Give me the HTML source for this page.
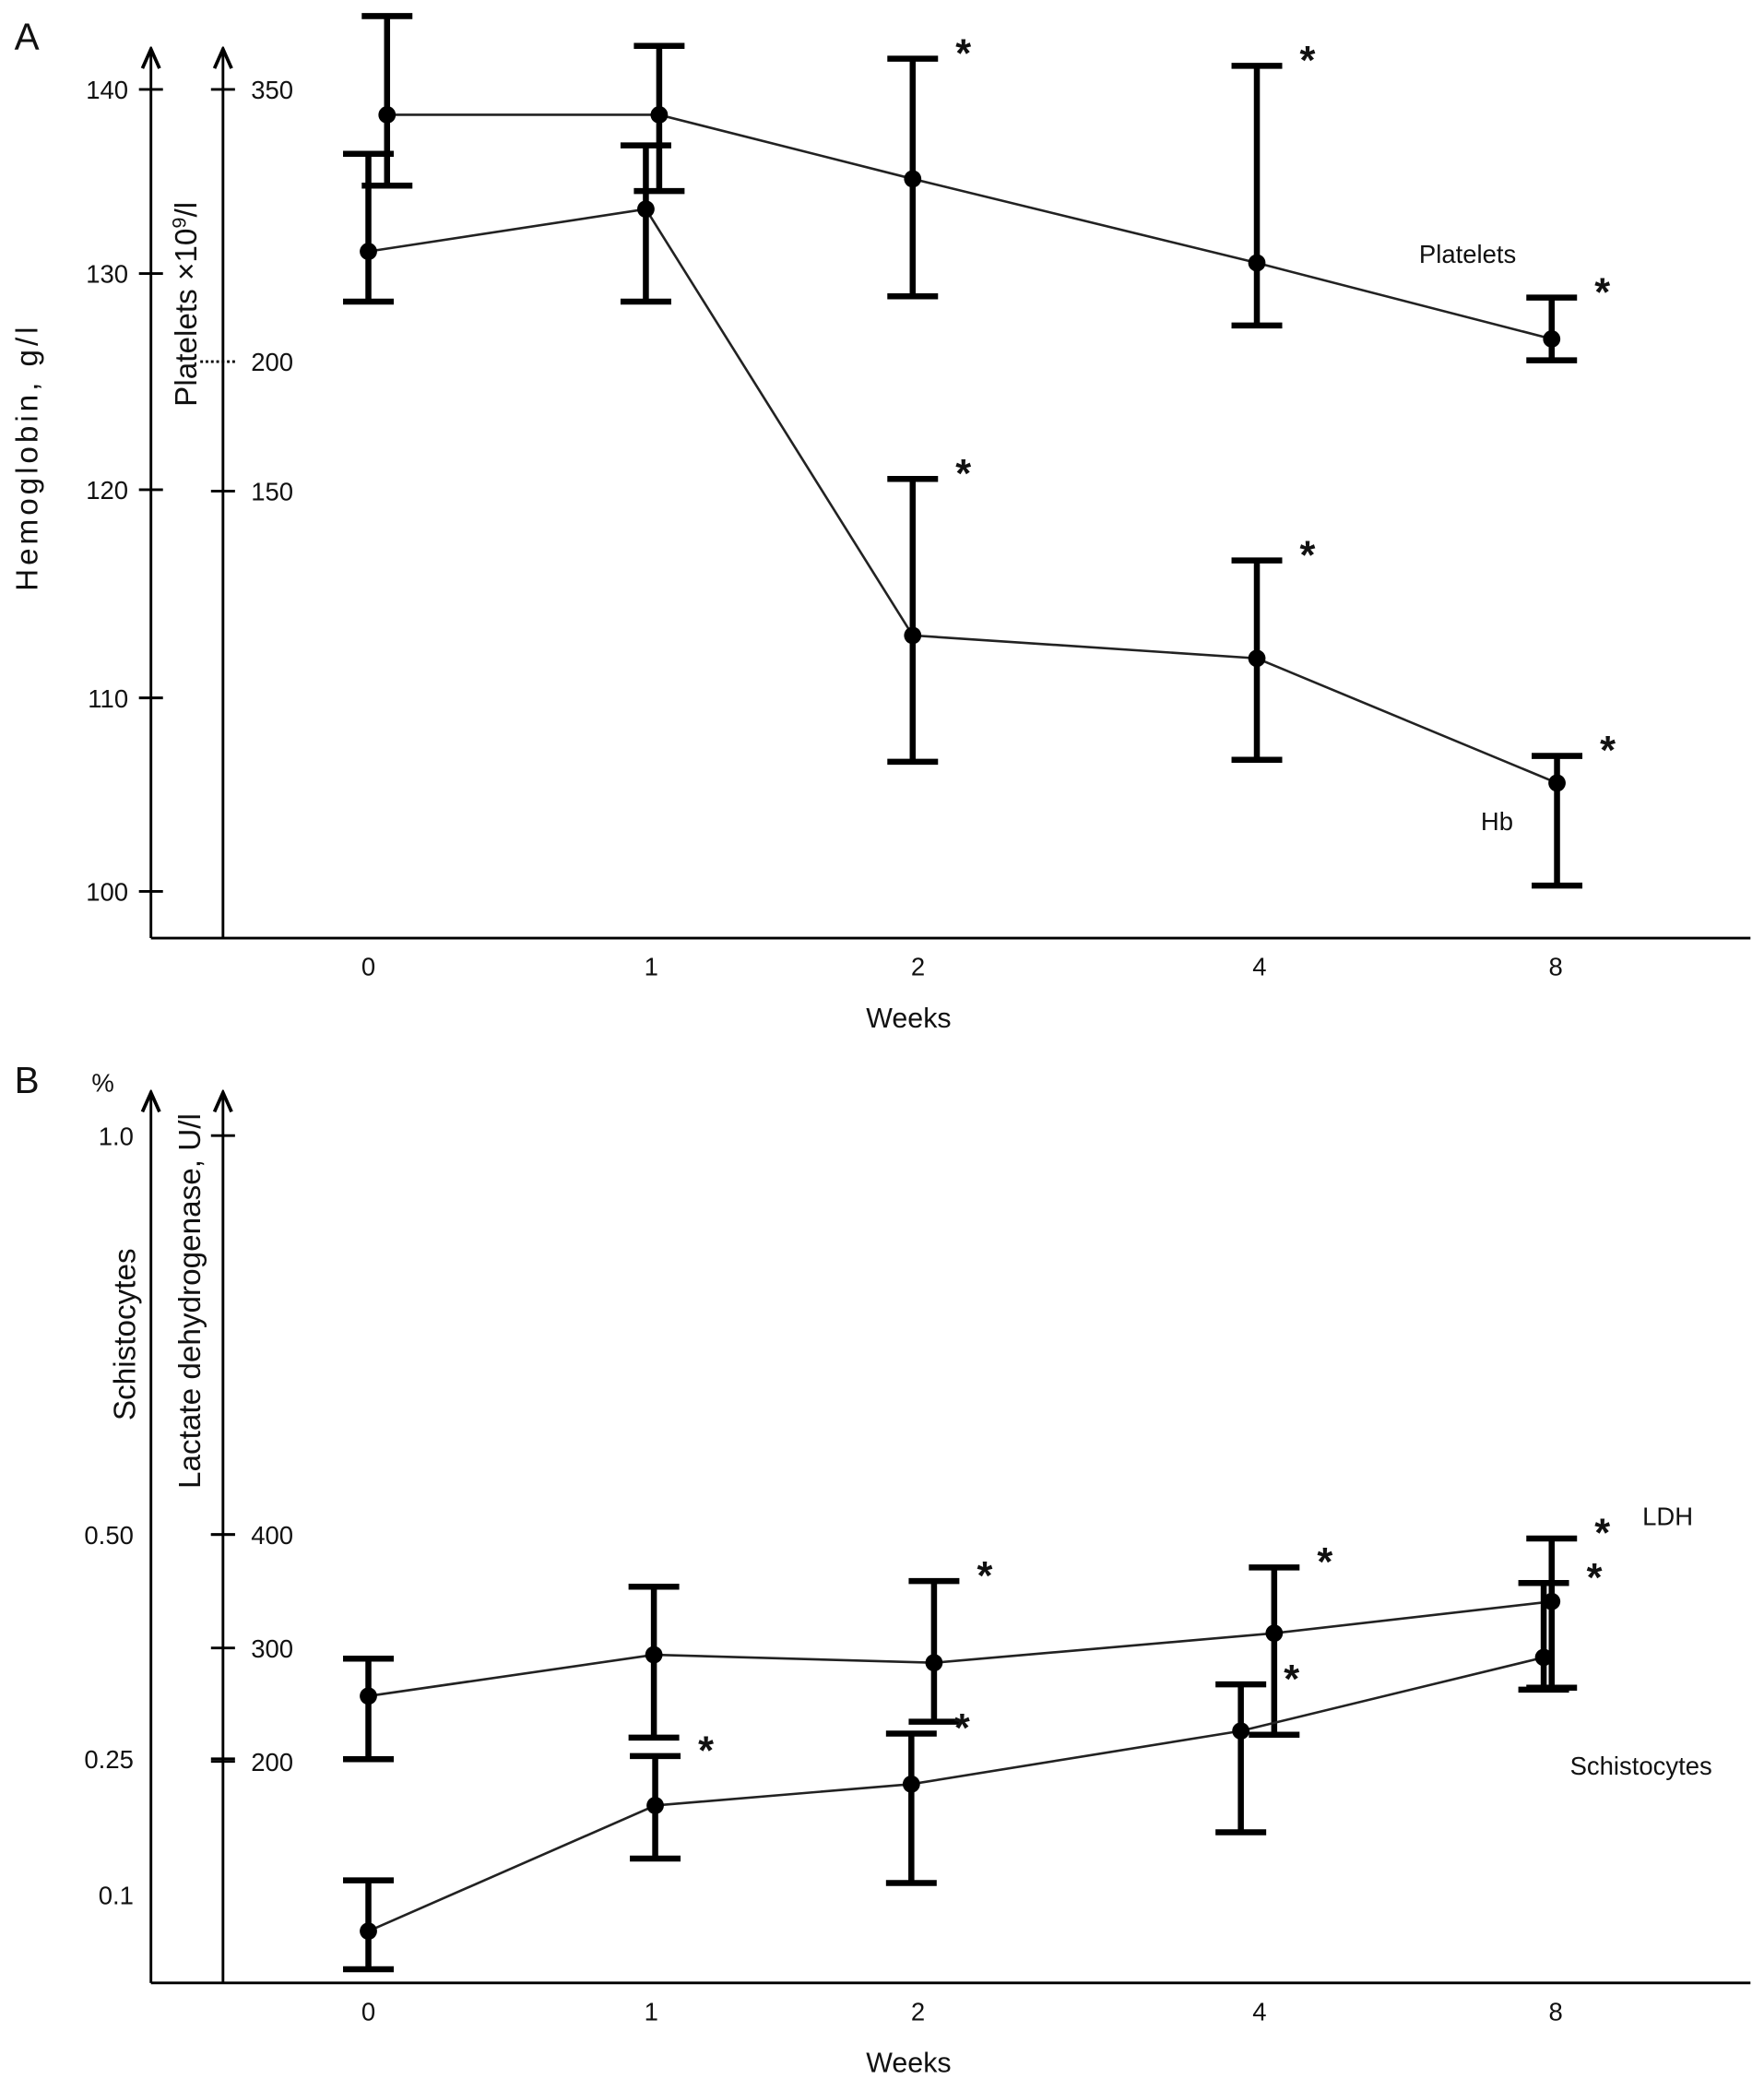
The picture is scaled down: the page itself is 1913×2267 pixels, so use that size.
<!DOCTYPE html>
<html><head><meta charset="utf-8"><style>
html,body{margin:0;padding:0;background:#fff}
svg{display:block}
text{font-family:"Liberation Sans",sans-serif;fill:#111}
</style></head><body>
<svg id="chart" width="1913" height="2267" viewBox="0 0 1322 1567" xmlns="http://www.w3.org/2000/svg">
<defs><marker id="arr" viewBox="0 0 10 10" refX="5" refY="2" markerWidth="8" markerHeight="10" orient="0"><path d="M1,9 L5,0 L9,9" fill="none" stroke="#000" stroke-width="1.6"/></marker></defs>
<g id="g"></g>
</svg>
<script>
// ---- data ----
const weeks = ["0","1","2","4","8"];
const hbMean = [131.2, 133.5, 113.0, 111.9, 105.6];
const hbHi = [136.5, 136.96, 120.5, 116.6, 107.0];
const hbLo = [128.7, 128.7, 106.7, 106.8, 100.3];
const hbStar = [false, false, true, true, true];
const pltMean = [336, 336, 300.7, 254.4, 212.5];
const pltHi = [390.4, 374, 366.9, 363, 235.3];
const pltLo = [297, 294, 236, 219.9, 200.7];
const pltStar = [false, false, true, true, true];
const ldhMean = [257.6, 294, 287, 313, 341];
const ldhHi = [290.6, 354, 359, 371, 396.5];
const ldhLo = [202, 221, 235, 223.5, 265];
const ldhStar = [false, false, true, true, true];
const schMean = [0.060, 0.1985, 0.222, 0.281, 0.363];
const schHi = [0.116, 0.253, 0.278, 0.333, 0.446];
const schLo = [0.018, 0.140, 0.113, 0.169, 0.327];
const schStar = [false, true, true, true, true];
const hbTicks = [140, 130, 120, 110, 100];
const pltTicks = [350, 200, 150];
const ldhTicks = [400, 300, 200];
const schTicks = ["1.0", "0.50", "0.25", "0.1"];

const NS = "http://www.w3.org/2000/svg";
const g = document.getElementById("g");
function el(tag, attrs, parent) {
  const e = document.createElementNS(NS, tag);
  for (const k in attrs) e.setAttribute(k, attrs[k]);
  (parent || g).appendChild(e);
  return e;
}
function txt(s, x, y, size, anchor, rot) {
  const t = el("text", {x: x, y: y, "font-size": size, "text-anchor": anchor || "middle"});
  if (rot) t.setAttribute("transform", "rotate(-90 " + x + " " + y + ")");
  t.textContent = s;
  return t;
}
function piece(vals, px) {
  return function (v) {
    let i = 0;
    while (i < vals.length - 2 && v > vals[i + 1]) i++;
    const t = (v - vals[i]) / (vals[i + 1] - vals[i]);
    return px[i] + t * (px[i + 1] - px[i]);
  };
}
// axis functions
const xScale = piece([0, 1, 2, 3, 4], [276, 488, 688, 944, 1166]);
const yHb = piece([100, 110, 120, 130, 140], [668, 523, 367, 205, 67]);
const yPlt = piece([150, 200, 350], [368, 271, 67]);
const yLdh = (v) => 1320 - (v - 200) * 0.85;
const ySch = piece([0.1, 0.25, 0.5, 1.0], [1420, 1318, 1150, 851]);

function series(name, mean, hi, lo, star, ys, off) {
  const grp = el("g", {});
  
  
  let d = "";
  mean.forEach((m, i) => { d += (i ? "L" : "M") + (xScale(i) + off[i]) + "," + ys(m); });
  const ln = el("path", {d: d, fill: "none", stroke: "#222", "stroke-width": 1.8}, grp);
  
  
  mean.forEach((m, i) => {
    const x = xScale(i) + off[i], yt = ys(hi[i]), yb = ys(lo[i]);
    const eb = el("path", {d: "M" + x + "," + yt + "V" + yb + "M" + (x - 19) + "," + yt + "H" + (x + 19) + "M" + (x - 19) + "," + yb + "H" + (x + 19), stroke: "#000", "stroke-width": 4.5, fill: "none"}, grp);
    
    
    const c = el("circle", {cx: x, cy: ys(m), r: 6.5, fill: "#000"}, grp);
    
    
    if (star[i]) {
      const s = txt("*", x + 38, yt + 6, 30, "middle");
      s.setAttribute("font-weight", "bold");
      
      
    }
  });
}

function axes(top, bottom, label) {
  el("line", {x1: 113, y1: bottom, x2: 1312, y2: bottom, stroke: "#000", "stroke-width": 2});
  const a1 = el("line", {x1: 113, y1: bottom, x2: 113, y2: top, stroke: "#000", "stroke-width": 2, "marker-end": "url(#arr)"});
  
  
  const a2 = el("line", {x1: 167, y1: bottom, x2: 167, y2: top, stroke: "#000", "stroke-width": 2, "marker-end": "url(#arr)"});
  
  
  weeks.forEach((w, i) => {
    const t = txt(w, xScale(i), bottom + 28, 19);
    
    
  });
  const wt = txt("Weeks", 681, bottom + 67, 21);
  
  
  const pl = txt(label, 20, top - 3, 28, "middle");
  
  
}

// Panel A
axes(40, 703, "A");
hbTicks.forEach(v => {
  el("line", {x1: 104, x2: 122, y1: yHb(v), y2: yHb(v), stroke: "#000", "stroke-width": 2});
  const t = txt(String(v), 96, yHb(v) + 7, 19, "end");
  
  
});
pltTicks.forEach(v => {
  if (v === 200) el("line", {x1: 150, x2: 176, y1: yPlt(v), y2: yPlt(v), stroke: "#000", "stroke-width": 2, "stroke-dasharray": "2,2"});
  else el("line", {x1: 158, x2: 176, y1: yPlt(v), y2: yPlt(v), stroke: "#000", "stroke-width": 2});
  const t = txt(String(v), 188, yPlt(v) + 7, 19, "start");
  
  
});
let t1 = txt("Hemoglobin, g/l", 28, 344, 23, "middle", true);
t1.setAttribute("textLength", "198");
 
const pt = el("text", {x: 147, y: 228, "font-size": 23, "text-anchor": "middle", transform: "rotate(-90 147 228)"});
pt.innerHTML = 'Platelets ×10<tspan dy="-8" font-size="15">9</tspan><tspan dy="8">/l</tspan>';
 
series("platelets", pltMean, pltHi, pltLo, pltStar, yPlt, [14, 6, -4, -2, -3]);
series("hb", hbMean, hbHi, hbLo, hbStar, yHb, [0, -4, -4, -2, 1]);
let l1 = txt("Platelets", 1100, 197, 19);  
let l2 = txt("Hb", 1122, 622, 19);  

// Panel B
axes(822, 1486, "B");
let pc = txt("%", 77, 818, 19);  
schTicks.forEach(v => {
  const y = ySch(parseFloat(v));
  if (v !== "0.1") el("line", {x1: 158, x2: 176, y1: y, y2: y, stroke: "#000", "stroke-width": 2});
  const t = txt(v, 100, y + 7, 19, "end");
  
  
});
ldhTicks.forEach(v => {
  el("line", {x1: 158, x2: 176, y1: yLdh(v), y2: yLdh(v), stroke: "#000", "stroke-width": 2});
  const t = txt(String(v), 188, yLdh(v) + 7, 19, "start");
  
  
});
let t3 = txt("Schistocytes", 101, 1000, 23, "middle", true);
 
let t4 = txt("Lactate dehydrogenase, U/l", 150, 975, 23, "middle", true);
 
series("ldh", ldhMean, ldhHi, ldhLo, ldhStar, yLdh, [0, 2, 12, 11, -3]);
series("schistocytes", schMean, schHi, schLo, schStar, ySch, [0, 3, -5, -14, -9]);
let l3 = txt("LDH", 1250, 1143, 19);  
let l4 = txt("Schistocytes", 1230, 1330, 19);  
</script>
</body></html>
